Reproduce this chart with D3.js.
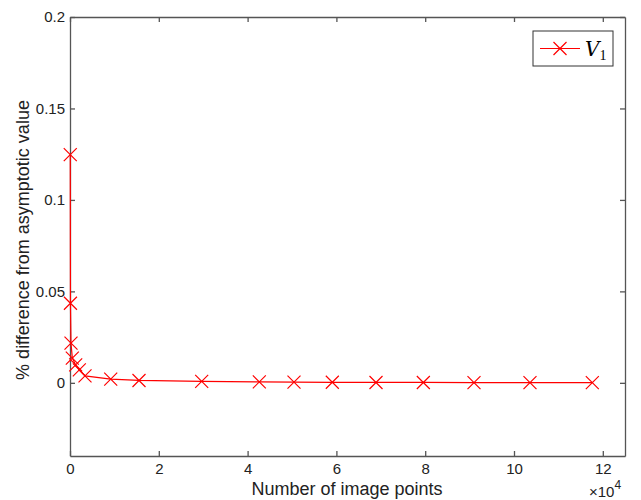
<!DOCTYPE html>
<html>
<head>
<meta charset="utf-8">
<script src="https://cdn.jsdelivr.net/npm/d3@7"></script>
<style>
  body { margin: 0; background: #fff; }
  text { font-family: "Liberation Sans", Arial, sans-serif; }
</style>
</head>
<body>
<div id="chart"></div>
<script>
// data
var imagePoints = [60, 100, 225, 520, 1280, 2100, 3380, 9170, 15540, 29660, 42640, 50450, 59080, 68920, 79580, 90990, 103600, 117640];
var pctDiff = [0.1248, 0.0435, 0.0217, 0.0135, 0.0098, 0.0071, 0.0038, 0.0020, 0.0013, 0.0008, 0.0005, 0.0004, 0.0003, 0.0002, 0.0002, 0.0001, 0.0001, 0.0001];
var xTicks = [0, 20000, 40000, 60000, 80000, 100000, 120000];
var xTickLabels = ["0", "2", "4", "6", "8", "10", "12"];
var yTicks = [0, 0.05, 0.1, 0.15, 0.2];
var yTickLabels = ["0", "0.05", "0.1", "0.15", "0.2"];

var W = 641, H = 500;
var m = {left: 70, right: 16, top: 17, bottom: 44};

var svg = d3.select("#chart").append("svg")
    .attr("width", W).attr("height", H);

var x = d3.scaleLinear().domain([0, 125000]).range([m.left, W - m.right]);
var y = d3.scaleLinear().domain([-0.04, 0.2]).range([H - m.bottom, m.top]);

var axisCol = "#555";

// box axes, ticks pointing inward
var gB = svg.append("g").attr("transform", "translate(0," + (H - m.bottom) + ")")
    .call(d3.axisBottom(x).tickValues(xTicks).tickSizeInner(-5).tickSizeOuter(0)
        .tickFormat(function (d, i) { return xTickLabels[i]; }));
var gT = svg.append("g").attr("transform", "translate(0," + m.top + ")")
    .call(d3.axisTop(x).tickValues(xTicks).tickSizeInner(-5).tickSizeOuter(0).tickFormat(""));
var gL = svg.append("g").attr("transform", "translate(" + m.left + ",0)")
    .call(d3.axisLeft(y).tickValues(yTicks).tickSizeInner(-5).tickSizeOuter(0)
        .tickFormat(function (d, i) { return yTickLabels[i]; }));
var gR = svg.append("g").attr("transform", "translate(" + (W - m.right) + ",0)")
    .call(d3.axisRight(y).tickValues(yTicks).tickSizeInner(-5).tickSizeOuter(0).tickFormat(""));

[gB, gT, gL, gR].forEach(function (g) {
    g.select(".domain").attr("stroke", axisCol).attr("stroke-width", 1.3);
    g.selectAll(".tick line").attr("stroke", axisCol).attr("stroke-width", 1.3);
    g.selectAll(".tick text").attr("fill", "#222").style("font-size", "15px");
});
gB.selectAll(".tick text").attr("dy", "1.0em");
gL.selectAll(".tick text").attr("x", -5);

// data line
var pts = imagePoints.map(function (v, i) { return [v, pctDiff[i]]; });
svg.append("path")
    .datum(pts)
    .attr("fill", "none")
    .attr("stroke", "#ff0000")
    .attr("stroke-width", 1.2)
    .attr("d", d3.line().x(function (d) { return x(d[0]); }).y(function (d) { return y(d[1]); }));

// x markers
var s = 6.5;
var cross = function (cx, cy) {
    return "M" + (cx - s) + "," + (cy - s) + "L" + (cx + s) + "," + (cy + s) +
        "M" + (cx - s) + "," + (cy + s) + "L" + (cx + s) + "," + (cy - s);
};
svg.selectAll(".mk").data(pts).enter().append("path")
    .attr("class", "mk")
    .attr("stroke", "#ff0000")
    .attr("stroke-width", 1.2)
    .attr("d", function (d) { return cross(x(d[0]), y(d[1])); });

// labels
svg.append("text")
    .attr("x", 347).attr("y", 495)
    .attr("text-anchor", "middle").style("font-size", "18px").attr("fill", "#222")
    .text("Number of image points");
svg.append("text")
    .attr("transform", "translate(29,240) rotate(-90)")
    .attr("text-anchor", "middle").style("font-size", "18px").attr("fill", "#222")
    .text("% difference from asymptotic value");
var mult = svg.append("text").attr("x", 589).attr("y", 497)
    .style("font-size", "15px").attr("fill", "#222");
mult.append("tspan").text("\u00d710");
mult.append("tspan").attr("dy", -8).style("font-size", "12px").text("4");

// legend
var lg = svg.append("g");
lg.append("rect").attr("x", 533).attr("y", 31).attr("width", 80).attr("height", 35)
    .attr("fill", "#fff").attr("stroke", "#333").attr("stroke-width", 1);
lg.append("line").attr("x1", 540).attr("x2", 580).attr("y1", 48.5).attr("y2", 48.5)
    .attr("stroke", "#ff0000").attr("stroke-width", 1.2);
lg.append("path").attr("d", cross(560, 48.5)).attr("stroke", "#ff0000").attr("stroke-width", 1.2);
var lt = lg.append("text").attr("x", 585).attr("y", 56)
    .style("font-family", "'DejaVu Serif', 'Liberation Serif', serif").style("font-size", "20px").attr("fill", "#000");
lt.append("tspan").style("font-style", "italic").text("V");
lt.append("tspan").attr("dy", 4).style("font-size", "14px").style("font-family", "'Liberation Serif', serif").text("1");
</script>
</body>
</html>
